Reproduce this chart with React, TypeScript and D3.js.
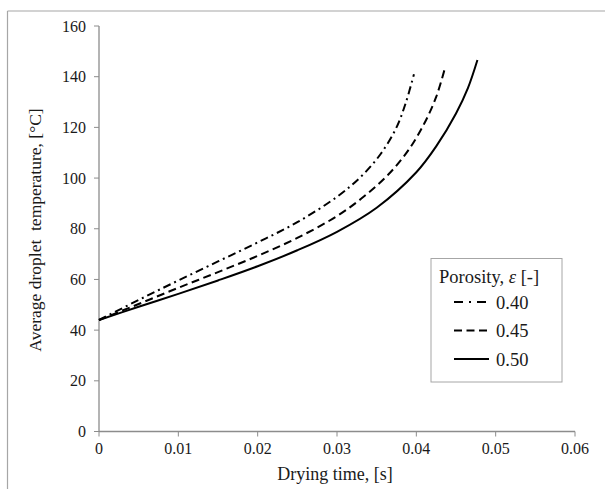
import React from "react";
import * as d3 from "d3";

const xTicks = [0, 0.01, 0.02, 0.03, 0.04, 0.05, 0.06];
const yTicks = [0, 20, 40, 60, 80, 100, 120, 140, 160];

const series040: [number, number][] = [
  [0, 44], [0.005, 51.9], [0.01, 59.6], [0.015, 67.1], [0.02, 74.6], [0.025, 82.6],
  [0.03, 92.6], [0.033, 100.5], [0.0355, 109.5], [0.0375, 120], [0.0387, 130], [0.0397, 141],
];
const series045: [number, number][] = [
  [0, 44], [0.005, 50.3], [0.01, 56.7], [0.015, 62.9], [0.02, 69.3], [0.025, 76.4],
  [0.03, 85], [0.0335, 93], [0.0365, 101.5], [0.039, 111], [0.041, 121.5], [0.0425, 132], [0.0436, 143.3],
];
const series050: [number, number][] = [
  [0, 44], [0.005, 49.2], [0.01, 54.3], [0.015, 59.6], [0.02, 65.2], [0.025, 71.5],
  [0.03, 78.8], [0.035, 88.3], [0.04, 102.3], [0.0425, 112.5], [0.045, 125.5], [0.0465, 135.5], [0.0477, 146.6],
];
const legendLabels = ["0.40", "0.45", "0.50"];
const dashes = ["8,4,2,4", "8,4.5", ""];

const FONT = "'Liberation Serif', 'Times New Roman', Times, serif";

export default function App() {
  const x = d3.scaleLinear().domain([0, 0.06]).range([99, 575]);
  const y = d3.scaleLinear().domain([0, 160]).range([431.5, 26]);
  const line = d3
    .line<[number, number]>()
    .x(d => x(d[0]))
    .y(d => y(d[1]))
    .curve(d3.curveCatmullRom.alpha(0.5));
  const allSeries = [series040, series045, series050];
  const axisColor = "#8c8c8c";
  const textColor = "#1a1a1a";
  const ts = { fontFamily: FONT } as React.CSSProperties;
  return (
    <svg width={605} height={489} style={{ position: "absolute", left: 0, top: 0, fontFamily: FONT }}>
      <rect x={0} y={0} width={605} height={489} fill="#fff" />
      <line x1={7.5} y1={11} x2={605} y2={11} stroke="#a6a6a6" strokeWidth={1.2} />
      <line x1={7.5} y1={11} x2={7.5} y2={489} stroke="#a6a6a6" strokeWidth={1.2} />
      {/* axes */}
      <line x1={x(0)} y1={y(0)} x2={x(0.06)} y2={y(0)} stroke={axisColor} strokeWidth={1.3} />
      <line x1={x(0)} y1={y(0)} x2={x(0)} y2={y(160)} stroke={axisColor} strokeWidth={1.3} />
      {xTicks.map(t => (
        <g key={"x" + t}>
          <line x1={x(t)} x2={x(t)} y1={y(0)} y2={y(0) + 5} stroke={axisColor} strokeWidth={1} />
          <text x={x(t)} y={454} textAnchor="middle" fontSize={16} fill={textColor} style={ts}>
            {t === 0 ? "0" : t.toFixed(2)}
          </text>
        </g>
      ))}
      {yTicks.map(t => (
        <g key={"y" + t}>
          <line x1={x(0) - 5} x2={x(0)} y1={y(t)} y2={y(t)} stroke={axisColor} strokeWidth={1} />
          <text x={86} y={y(t) + 5.5} textAnchor="end" fontSize={16} fill={textColor} style={ts}>
            {t}
          </text>
        </g>
      ))}
      <text x={x(0.03) - 2} y={480} textAnchor="middle" fontSize={18} fill={textColor} style={ts}>
        Drying time, [s]
      </text>
      <text
        transform={`translate(41,${230}) rotate(-90)`}
        textAnchor="middle"
        fontSize={17.5}
        fill={textColor}
        style={{ ...ts, whiteSpace: "pre" }}
      >
        {"Average droplet  temperature, [\u00B0C]"}
      </text>
      {/* curves */}
      {allSeries.map((s, i) => (
        <path
          key={"s" + i}
          d={line(s) || ""}
          fill="none"
          stroke="#000"
          strokeWidth={2}
          strokeDasharray={dashes[i] || undefined}
        />
      ))}
      {/* legend */}
      <rect x={431} y={258.5} width={131} height={123.5} fill="#fff" stroke="#a6a6a6" strokeWidth={1} />
      <text x={439} y={283} fontSize={18.5} fill={textColor} style={ts}>
        Porosity, <tspan fontStyle="italic">{"\u03B5"}</tspan> [-]
      </text>
      {legendLabels.map((lab, i) => (
        <g key={lab}>
          <line
            x1={454}
            x2={489}
            y1={302 + i * 28.5}
            y2={302 + i * 28.5}
            stroke="#000"
            strokeWidth={2}
            strokeDasharray={i === 0 ? "9,6,2,6" : dashes[i] || undefined}
          />
          <text x={496} y={308.5 + i * 28.5} fontSize={18.5} fill={textColor} style={ts}>
            {lab}
          </text>
        </g>
      ))}
    </svg>
  );
}
